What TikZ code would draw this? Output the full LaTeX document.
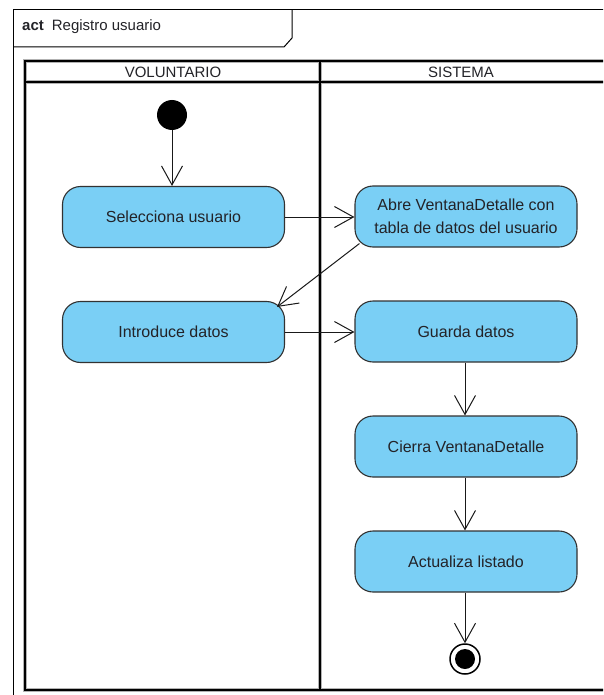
\documentclass[tikz,border=0pt]{standalone}
\usepackage{fontspec}
\setmainfont{Liberation Sans}
\usetikzlibrary{arrows.meta,calc}
\definecolor{actfill}{RGB}{122,207,245}
\definecolor{actline}{RGB}{50,50,50}
\definecolor{inktext}{RGB}{35,35,40}
\begin{document}
\begin{tikzpicture}[x=1pt,y=-1pt,
  action/.style={draw=actline, line width=1.1pt, fill=actfill, rounded corners=18pt,
    minimum width=222pt, minimum height=61pt, inner sep=0pt, align=center,
    font=\fontsize{16}{22.7}\selectfont, text=inktext},
  flow/.style={draw=black!90, line width=1pt,
    -{Straight Barb[length=19pt,width=21pt,line width=1pt]}},
  laneline/.style={line width=2pt, draw=black},
  laneshade/.style={line width=4pt, draw=black!30},
  lanetitle/.style={font=\fontsize{15}{18}\selectfont, text=inktext, inner sep=0pt},
  startnode/.style={circle, fill=black, minimum size=30pt, inner sep=0pt},
  endring/.style={circle, draw=black, line width=1.5pt, fill=white, minimum size=30pt, inner sep=0pt},
  enddot/.style={circle, fill=black, minimum size=20pt, inner sep=0pt},
]
\useasboundingbox (0,0) rectangle (603,695);
\clip (0,0) rectangle (603,695);
\fill[white] (0,0) rectangle (603,695);

% diagram frame and its name tab
\draw[line width=1pt] (13,720) -- (13,10) -- (640,10);
\draw[line width=1pt] (13,47) -- (284,47) -- (292,38) -- (292,10);
\node[anchor=west, font=\fontsize{15}{18}\selectfont, text=inktext, inner sep=0pt] (frametitle)
  at (22,27) {\textbf{act}\hspace{8pt}Registro usuario};

% swimlanes
\foreach \s in {laneshade, laneline}{
  \draw[\s] (640,61) -- (25,61) -- (25,690) -- (640,690);
  \draw[\s] (25,82.5) -- (640,82.5);
  \draw[\s] (320,61) -- (320,690);
}
\node[lanetitle] (lane1) at (173,72) {VOLUNTARIO};
\node[lanetitle] (lane2) at (461,72) {SISTEMA};

% activities
\node[startnode] (start) at (172,115) {};
\node[action] (sel) at (173.5,217) {Selecciona usuario};
\node[action] (abre) at (466,216.5) {Abre VentanaDetalle con\\tabla de datos del usuario};
\node[action] (intro) at (173.5,332) {Introduce datos};
\node[action] (guarda) at (466,331.5) {Guarda datos};
\node[action] (cierra) at (466,446.5) {Cierra VentanaDetalle};
\node[action] (act) at (466,561.5) {Actualiza listado};
\node[endring] (fin) at (465,659) {};
\node[enddot] (findot) at (fin) {};

% control flows
\draw[flow] (start) -- (start |- sel.north);
\draw[flow] (sel.east) -- (sel.east -| abre.west);
\draw[flow] ($(abre.south west)+(5,-4)$) -- ($(intro.north east)+(-8,6)$);
\draw[flow] (intro.east) -- (intro.east -| guarda.west);
\draw[flow] (guarda.south -| fin) -- (cierra.north -| fin);
\draw[flow] (cierra.south -| fin) -- (act.north -| fin);
\draw[flow] (act.south -| fin) -- (fin.north);
\end{tikzpicture}
\end{document}
